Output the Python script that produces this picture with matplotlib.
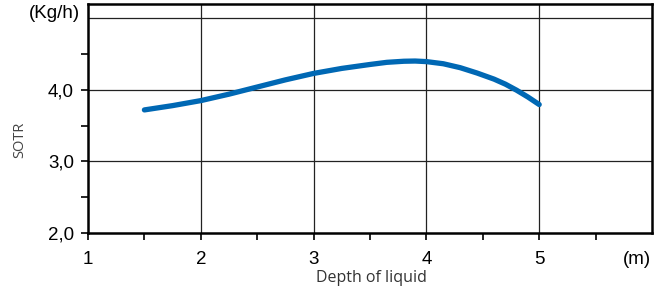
import matplotlib
matplotlib.use("Agg")
import matplotlib.pyplot as plt
from matplotlib.ticker import FixedLocator

# depth of liquid (m) and SOTR (Kg/h)
depth = [1.5, 1.75, 2.0, 2.25, 2.5, 2.75, 3.0, 3.25, 3.5, 3.65, 3.8, 3.9, 4.0,
         4.15, 4.3, 4.45, 4.6, 4.7, 4.8, 4.9, 5.0]
sotr = [3.72, 3.78, 3.85, 3.94, 4.04, 4.14, 4.23, 4.30, 4.355, 4.385, 4.40, 4.403, 4.395,
        4.365, 4.31, 4.235, 4.15, 4.08, 3.995, 3.90, 3.795]

x_ticks = [1, 2, 3, 4, 5]
y_ticks = [2, 3, 4]
y_labels = ["2,0", "3,0", "4,0"]

plt.rcParams['font.family'] = ['Liberation Sans', 'DejaVu Sans']

fig = plt.figure(figsize=(6.66, 2.91), dpi=100)
ax = fig.add_axes([88 / 666, 58 / 291, 564 / 666, 229 / 291])

ax.set_xlim(1, 6)
ax.set_ylim(2, 5.2)

# grid lines
for gx in [2, 3, 4, 5]:
    ax.axvline(gx, color="#222222", lw=0.9, zorder=1)
for gy in [3, 4, 5]:
    ax.axhline(gy, color="#222222", lw=0.9, zorder=1)

ax.plot(depth, sotr, color="#0068b4", lw=3.8, solid_capstyle="round",
        solid_joinstyle="round", zorder=3)

for side in ["left", "bottom", "right", "top"]:
    ax.spines[side].set_linewidth(1.8)
    ax.spines[side].set_color("black")

ax.set_xticks(x_ticks)
ax.set_xticklabels([str(v) for v in x_ticks])
ax.set_yticks(y_ticks)
ax.set_yticklabels(y_labels)
ax.xaxis.set_minor_locator(FixedLocator([1.5, 2.5, 3.5, 4.5, 5.5]))
ax.yaxis.set_minor_locator(FixedLocator([2.5, 3.5, 4.5]))
ax.tick_params(which="both", direction="out", length=5, width=1.2, colors="black",
               labelsize=13.5, right=False, top=False)
ax.tick_params(axis="x", pad=8)
ax.tick_params(axis="y", pad=5)

fig.text(637 / 666, 1 - 259 / 291, "(m)", ha="center", va="center", fontsize=13.5)
fig.text(80 / 666, 1 - 13 / 291, "(Kg/h)", ha="right", va="center", fontsize=13.5)
fig.text(20 / 666, 1 - 140 / 291, "SOTR", rotation=90, ha="center", va="center",
         fontsize=10.5, color="#444444", family=["Open Sans", "DejaVu Sans"])
fig.text(371 / 666, 1 - 278 / 291, "Depth of liquid", ha="center", va="center",
         fontsize=11.5, color="#333333", family=["Open Sans", "DejaVu Sans"])

fig.savefig("out.png", dpi=100)
